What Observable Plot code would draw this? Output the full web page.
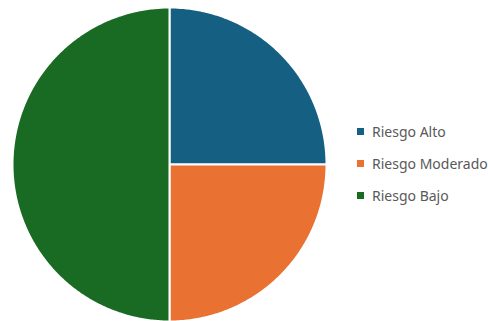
<!DOCTYPE html>
<html>
<head>
<meta charset="utf-8">
<script src="https://cdn.jsdelivr.net/npm/d3@7"></script>
<script src="https://cdn.jsdelivr.net/npm/@observablehq/plot@0.6"></script>
<style>
  html, body { margin: 0; padding: 0; background: #fff; }
  #wrap { position: relative; width: 488px; height: 321px; font-family: "Noto Sans", "Open Sans", sans-serif; }
  #legend { position: absolute; left: 357px; top: 115px; }
  .item { display: flex; align-items: center; height: 32px; font-size: 14px; color: #595959; }
  .sw { width: 7px; height: 7px; margin-right: 8px; }
</style>
</head>
<body>
<div id="wrap"></div>
<script>
const categories = ["Riesgo Alto", "Riesgo Moderado", "Riesgo Bajo"];
const values = [25, 25, 50];
const colors = ["#156082", "#E97132", "#196B24"];

const data = categories.map((c, i) => ({category: c, value: values[i]}));
const arcs = d3.pie().sort(null).value(d => d.value)(data);

// build planar polygons (unit circle) for each slice, angle 0 at top, clockwise
const features = arcs.map(a => {
  const steps = Math.max(8, Math.ceil((a.endAngle - a.startAngle) / 0.01));
  const ring = [[0, 0]];
  for (let k = 0; k <= steps; k++) {
    const t = a.startAngle + (a.endAngle - a.startAngle) * k / steps;
    ring.push([Math.sin(t), Math.cos(t)]);
  }
  ring.push([0, 0]);
  return {type: "Feature", properties: {category: a.data.category}, geometry: {type: "Polygon", coordinates: [ring]}};
});

const chart = Plot.plot({
  width: 488,
  height: 321,
  marginLeft: 12,
  marginRight: 162,
  marginTop: 7,
  marginBottom: 0,
  projection: {type: "reflect-y", domain: {type: "MultiPoint", coordinates: [[-1, -1], [1, 1]]}},
  color: {domain: categories, range: colors},
  marks: [
    Plot.geo(features, {fill: d => d.properties.category, stroke: "white", strokeWidth: 2})
  ]
});
document.getElementById("wrap").appendChild(chart);

const legend = document.createElement("div");
legend.id = "legend";
categories.forEach((c, i) => {
  const item = document.createElement("div");
  item.className = "item";
  const sw = document.createElement("span");
  sw.className = "sw";
  sw.style.background = colors[i];
  const label = document.createElement("span");
  label.textContent = c;
  item.appendChild(sw);
  item.appendChild(label);
  legend.appendChild(item);
});
document.getElementById("wrap").appendChild(legend);
</script>
</body>
</html>
